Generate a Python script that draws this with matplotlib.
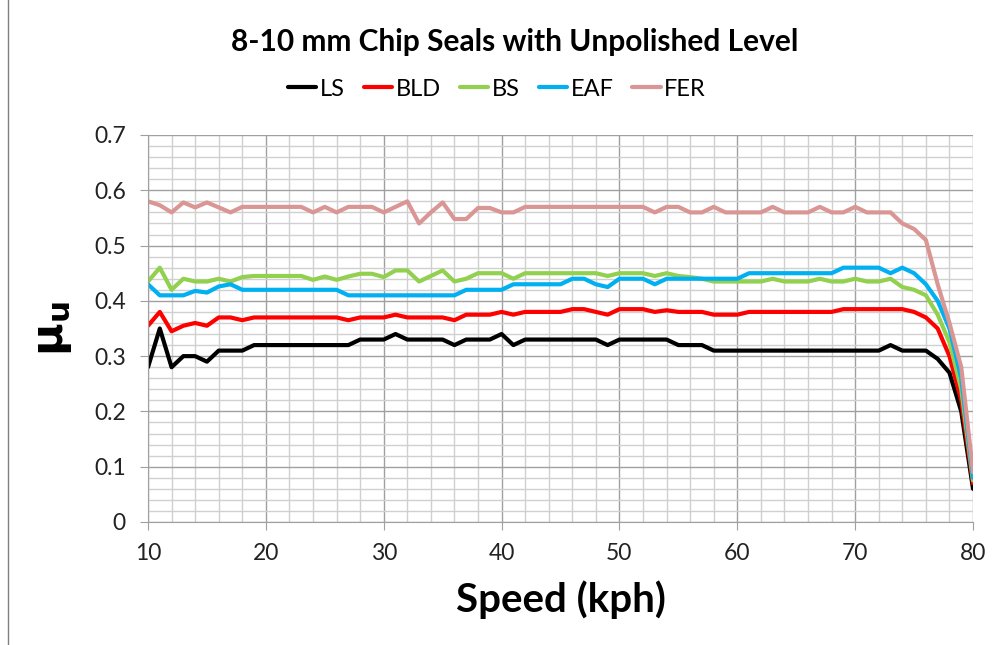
import numpy as np
import matplotlib
matplotlib.use("Agg")
import matplotlib.pyplot as plt
from matplotlib.lines import Line2D
from matplotlib.ticker import MultipleLocator

# speed in kph, one reading per kph
speed_kph = list(range(10, 81))

ls_values = [
    0.28, 0.35, 0.28, 0.30, 0.30, 0.29, 0.31, 0.31, 0.31, 0.32,
    0.32, 0.32, 0.32, 0.32, 0.32, 0.32, 0.32, 0.32, 0.33, 0.33,
    0.33, 0.34, 0.33, 0.33, 0.33, 0.33, 0.32, 0.33, 0.33, 0.33,
    0.34, 0.32, 0.33, 0.33, 0.33, 0.33, 0.33, 0.33, 0.33, 0.32,
    0.33, 0.33, 0.33, 0.33, 0.33, 0.32, 0.32, 0.32, 0.31, 0.31,
    0.31, 0.31, 0.31, 0.31, 0.31, 0.31, 0.31, 0.31, 0.31, 0.31,
    0.31, 0.31, 0.31, 0.32, 0.31, 0.31, 0.31, 0.295, 0.27, 0.20,
    0.06,
]
bld_values = [
    0.355, 0.38, 0.345, 0.355, 0.36, 0.355, 0.37, 0.37, 0.365, 0.37,
    0.37, 0.37, 0.37, 0.37, 0.37, 0.37, 0.37, 0.365, 0.37, 0.37,
    0.37, 0.375, 0.37, 0.37, 0.37, 0.37, 0.365, 0.375, 0.375, 0.375,
    0.38, 0.375, 0.38, 0.38, 0.38, 0.38, 0.385, 0.385, 0.38, 0.375,
    0.385, 0.385, 0.385, 0.38, 0.383, 0.38, 0.38, 0.38, 0.375, 0.375,
    0.375, 0.38, 0.38, 0.38, 0.38, 0.38, 0.38, 0.38, 0.38, 0.385,
    0.385, 0.385, 0.385, 0.385, 0.385, 0.38, 0.37, 0.35, 0.30, 0.22,
    0.07,
]
bs_values = [
    0.435, 0.46, 0.42, 0.44, 0.435, 0.435, 0.44, 0.435, 0.443, 0.445,
    0.445, 0.445, 0.445, 0.445, 0.438, 0.444, 0.438, 0.444, 0.449, 0.449,
    0.443, 0.455, 0.455, 0.435, 0.445, 0.455, 0.435, 0.44, 0.45, 0.45,
    0.45, 0.44, 0.45, 0.45, 0.45, 0.45, 0.45, 0.45, 0.45, 0.445,
    0.45, 0.45, 0.45, 0.445, 0.45, 0.445, 0.443, 0.44, 0.435, 0.435,
    0.435, 0.435, 0.435, 0.44, 0.435, 0.435, 0.435, 0.44, 0.435, 0.435,
    0.44, 0.435, 0.435, 0.44, 0.425, 0.42, 0.41, 0.375, 0.325, 0.24,
    0.075,
]
eaf_values = [
    0.43, 0.41, 0.41, 0.41, 0.418, 0.415, 0.426, 0.43, 0.42, 0.42,
    0.42, 0.42, 0.42, 0.42, 0.42, 0.42, 0.42, 0.41, 0.41, 0.41,
    0.41, 0.41, 0.41, 0.41, 0.41, 0.41, 0.41, 0.42, 0.42, 0.42,
    0.42, 0.43, 0.43, 0.43, 0.43, 0.43, 0.44, 0.44, 0.43, 0.425,
    0.44, 0.44, 0.44, 0.43, 0.44, 0.44, 0.44, 0.44, 0.44, 0.44,
    0.44, 0.45, 0.45, 0.45, 0.45, 0.45, 0.45, 0.45, 0.45, 0.46,
    0.46, 0.46, 0.46, 0.45, 0.46, 0.45, 0.43, 0.40, 0.35, 0.26,
    0.08,
]
fer_values = [
    0.58, 0.573, 0.56, 0.578, 0.569, 0.578, 0.569, 0.56, 0.57, 0.57,
    0.57, 0.57, 0.57, 0.57, 0.56, 0.57, 0.56, 0.57, 0.57, 0.57,
    0.56, 0.57, 0.58, 0.54, 0.56, 0.578, 0.548, 0.548, 0.568, 0.568,
    0.56, 0.56, 0.57, 0.57, 0.57, 0.57, 0.57, 0.57, 0.57, 0.57,
    0.57, 0.57, 0.57, 0.56, 0.57, 0.57, 0.56, 0.56, 0.57, 0.56,
    0.56, 0.56, 0.56, 0.57, 0.56, 0.56, 0.56, 0.57, 0.56, 0.56,
    0.57, 0.56, 0.56, 0.56, 0.54, 0.53, 0.51, 0.43, 0.36, 0.28,
    0.09,
]

series_names = ["LS", "BLD", "BS", "EAF", "FER"]
series_values = [ls_values, bld_values, bs_values, eaf_values, fer_values]
series_colors = ["#000000", "#FF0000", "#92D050", "#00B0F0", "#D99694"]

plt.rcParams["font.family"] = ["Lato", "DejaVu Sans"]

fig = plt.figure(figsize=(9.94, 6.45), dpi=100)
ax = fig.add_axes([0.1489, 0.1907, 0.83, 0.6])

for name, values, color in zip(series_names, series_values, series_colors):
    ax.plot(speed_kph, values, color=color, linewidth=3.0, label=name,
            solid_joinstyle="round", solid_capstyle="round")

ax.set_xlim(10, 80)
ax.set_ylim(0, 0.7)
ax.xaxis.set_major_locator(MultipleLocator(10))
ax.xaxis.set_minor_locator(MultipleLocator(2))
ax.yaxis.set_minor_locator(MultipleLocator(0.02))
ax.set_yticks(np.arange(0, 0.71, 0.1))
ax.set_yticklabels(["0", "0.1", "0.2", "0.3", "0.4", "0.5", "0.6", "0.7"])

ax.grid(which="major", color="#A0A0A0", linewidth=1.0)
ax.grid(which="minor", color="#D0D0D0", linewidth=1.0)
ax.set_axisbelow(True)

for side in ["top", "right"]:
    ax.spines[side].set_visible(False)
for side in ["left", "bottom"]:
    ax.spines[side].set_color("#A0A0A0")
ax.tick_params(which="major", length=6, color="#A0A0A0", labelsize=16.5,
               labelcolor="#222222")
ax.tick_params(which="minor", length=0)
ax.tick_params(axis="x", pad=9)
ax.tick_params(axis="y", pad=10)

ax.set_xlabel("Speed (kph)", fontsize=29, fontweight="bold", labelpad=12)
ax.set_ylabel(r"$\mathbf{\mu_u}$", fontsize=32, labelpad=14)

fig.text(0.518, 0.935, "8-10 mm Chip Seals with Unpolished Level",
         ha="center", va="center", fontsize=21.5, fontweight="bold")
fig.legend(loc="center", bbox_to_anchor=(0.5, 0.862), ncol=5, frameon=False,
           fontsize=17, handlelength=1.2, handletextpad=0.15, columnspacing=0.8)

# thin chart-area border on the left edge
fig.add_artist(Line2D([0.008, 0.008], [0, 1], transform=fig.transFigure,
                      color="#808080", linewidth=1.0))

fig.savefig("out.png", dpi=100)
